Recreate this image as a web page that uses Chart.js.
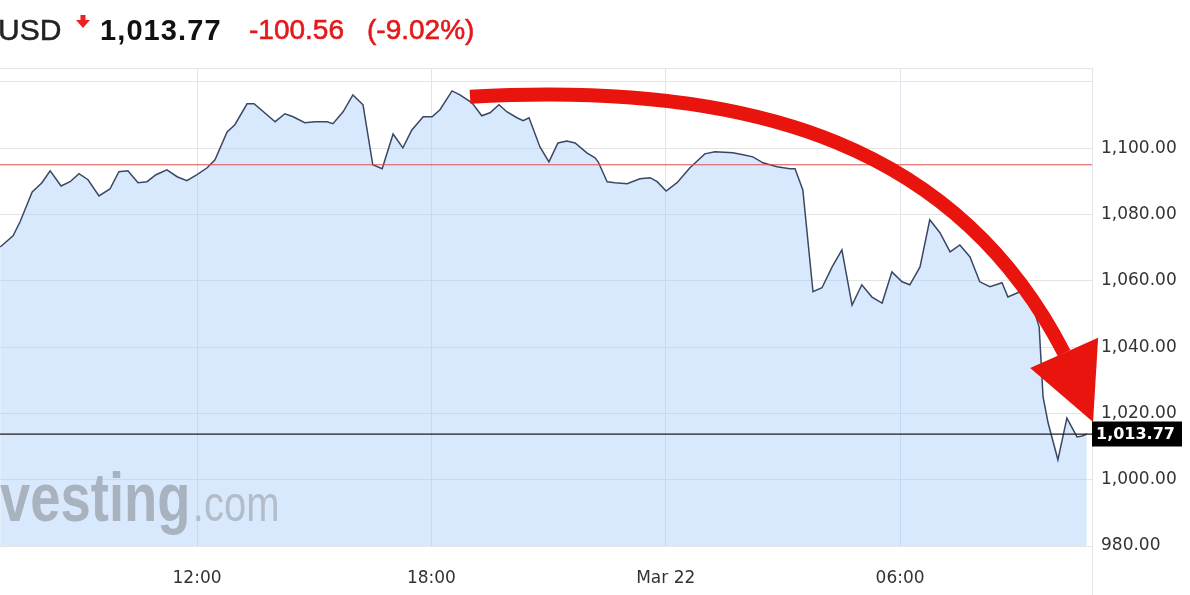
<!DOCTYPE html>
<html>
<head>
<meta charset="utf-8">
<script src="https://cdn.jsdelivr.net/npm/chart.js@4/dist/chart.umd.min.js"></script>
<style>
  html, body { margin: 0; padding: 0; background: #fff; overflow: hidden; }
  #wrap { position: relative; width: 1190px; height: 595px; }
  #chart { position: absolute; left: 0; top: 0; }
  .hd { position: absolute; font-family: "Liberation Sans", Arial, sans-serif; line-height: 1; white-space: nowrap; }
</style>
</head>
<body>
<div id="wrap">
  <canvas id="chart" width="1190" height="595"></canvas>
  <span class="hd" id="hSym" style="left:-2px; top:15px; font-size:30px; color:#222; -webkit-text-stroke:0.5px #222;"></span>
  <svg style="position:absolute; left:76px; top:15px;" width="14" height="14" viewBox="0 0 14 14">
    <polygon points="4.5,0 9.5,0 9.5,5 14,5 7,13 0,5 4.5,5" fill="#e8231f"/>
  </svg>
  <span class="hd" id="hPrice" style="left:100px; top:15.5px; font-size:29px; font-weight:bold; color:#111; letter-spacing:1.1px;"></span>
  <span class="hd" id="hChg" style="left:249px; top:16.3px; font-size:28px; color:#e3191b; -webkit-text-stroke:0.6px #e3191b;"></span>
  <span class="hd" id="hPct" style="left:367px; top:16.3px; font-size:28px; color:#e3191b; -webkit-text-stroke:0.6px #e3191b;"></span>
</div>
<script>
// ---------- data ----------
const symbolText = "USD";
const lastPriceText = "1,013.77";
const changeText = "-100.56";
const changePctText = "(-9.02%)";

// time in hours from Mar 21 00:00
const hours = [6.96,7.29,7.47,7.78,8.03,8.24,8.52,8.75,8.98,9.21,9.49,9.77,10.00,10.23,10.49,10.72,10.95,11.23,11.49,11.74,
  12.00,12.26,12.46,12.77,12.97,13.28,13.46,14.00,14.25,14.46,14.76,15.02,15.33,15.48,15.74,15.99,16.25,16.50,16.74,17.02,
  17.27,17.50,17.79,18.02,18.22,18.53,18.73,19.04,19.29,19.50,19.73,19.93,20.19,20.35,20.50,20.78,21.01,21.24,21.47,21.68,
  21.98,22.19,22.27,22.50,22.70,23.01,23.34,23.60,23.78,24.01,24.29,24.62,25.00,25.26,25.72,25.98,26.23,26.49,26.85,27.18,
  27.31,27.51,27.77,28.00,28.26,28.51,28.77,29.02,29.28,29.54,29.79,30.05,30.25,30.51,30.76,31.02,31.28,31.53,31.79,32.04,
  32.30,32.61,32.76,33.07,33.40,33.56,33.66,33.79,34.04,34.27,34.53,34.66,34.78];
const prices = [1070.2,1073.6,1077.8,1086.8,1089.6,1093.2,1088.6,1089.9,1092.3,1090.5,1085.6,1087.7,1092.9,1093.2,1089.6,1089.9,1092.0,1093.5,1091.4,1090.2,
  1092.0,1094.1,1096.5,1104.9,1107.1,1113.4,1113.4,1108.0,1110.4,1109.5,1107.7,1108.0,1108.0,1107.4,1111.0,1116.1,1113.1,1095.0,1093.8,1104.3,
  1100.1,1105.5,1109.5,1109.5,1111.6,1117.3,1116.1,1113.7,1109.8,1110.7,1113.1,1111.0,1109.2,1108.3,1109.2,1100.4,1095.9,1101.6,1102.2,1101.6,
  1098.6,1097.1,1095.9,1089.9,1089.6,1089.3,1090.8,1091.1,1089.9,1087.1,1089.6,1094.1,1098.3,1098.9,1098.6,1098.0,1097.4,1095.6,1094.4,1093.8,
  1093.8,1087.4,1056.7,1057.9,1064.2,1069.3,1052.7,1058.8,1055.1,1053.3,1062.7,1059.7,1058.8,1064.2,1078.4,1074.5,1068.7,1070.8,1067.2,1059.7,
  1058.2,1059.4,1055.1,1056.7,1052.1,1046.1,1025.0,1017.1,1006.0,1018.6,1012.9,1013.2,1013.77];

const refLevel = 1095.0;      // red horizontal line
const lastPrice = 1013.77;    // black horizontal line + label

const xTicks = [12, 18, 24, 30];
const xTickLabels = ["12:00", "18:00", "Mar 22", "06:00"];
const yGrid = [980, 1000, 1020, 1040, 1060, 1080, 1100, 1120];
const yLabelled = [980, 1000, 1020, 1040, 1060, 1080, 1100];

const X_MIN = 6.956, X_MAX = 34.913;
const Y_MIN = 980, Y_MAX = 1124.2;

// annotation arrow (in data units): bezier start, control1, control2, end; head triangle
const arrowCurve = [[18.99,1115.5],[26.41,1120.6],[31.53,1099.5],[34.20,1038.2]];
const arrowHead = [[33.33,1033.7],[35.07,1042.8],[34.94,1017.4]];

// ---------- header ----------
document.getElementById('hSym').textContent = symbolText;
document.getElementById('hPrice').textContent = lastPriceText;
document.getElementById('hChg').textContent = changeText;
document.getElementById('hPct').textContent = changePctText;

// ---------- chart ----------
const series = hours.map((h, i) => ({x: h, y: prices[i]}));
const fmt = v => v.toLocaleString('en-US', {minimumFractionDigits: 2, maximumFractionDigits: 2});

const decorPlugin = {
  id: 'decor',
  afterDatasetsDraw(chart) {
    const {ctx, chartArea} = chart;
    // watermark
    ctx.save();
    ctx.beginPath();
    ctx.rect(chartArea.left, chartArea.top, chartArea.right - chartArea.left, chartArea.bottom - chartArea.top);
    ctx.clip();
    ctx.translate(chartArea.left, chartArea.bottom - 25);
    ctx.scale(0.8, 1);
    ctx.textBaseline = 'alphabetic';
    ctx.font = 'bold 68px "Liberation Sans", Arial, sans-serif';
    ctx.fillStyle = '#a9b3bf';
    const wIn = ctx.measureText('in').width;
    const wV = ctx.measureText('vesting').width;
    ctx.fillText('investing', -wIn, 0);
    ctx.font = '50px "Liberation Sans", Arial, sans-serif';
    ctx.fillStyle = '#b3bdca';
    ctx.fillText('.com', wV + 3, 0);
    ctx.restore();
  },
  afterDraw(chart) {
    const {ctx, chartArea, scales} = chart;
    const xs = scales.x, ys = scales.y;
    const P = p => [xs.getPixelForValue(p[0]), ys.getPixelForValue(p[1])];
    // right frame line
    ctx.save();
    ctx.strokeStyle = '#e3e3e3';
    ctx.lineWidth = 1;
    ctx.beginPath();
    ctx.moveTo(chartArea.right + 0.5, chartArea.top);
    ctx.lineTo(chartArea.right + 0.5, chart.height);
    ctx.stroke();
    ctx.restore();
    // red arrow
    const a = arrowCurve.map(P);
    ctx.save();
    ctx.strokeStyle = '#e9140d';
    ctx.fillStyle = '#e9140d';
    ctx.lineWidth = 14;
    ctx.lineCap = 'butt';
    ctx.beginPath();
    ctx.moveTo(a[0][0], a[0][1]);
    ctx.bezierCurveTo(a[1][0], a[1][1], a[2][0], a[2][1], a[3][0], a[3][1]);
    ctx.stroke();
    const h = arrowHead.map(P);
    ctx.beginPath();
    ctx.moveTo(h[0][0], h[0][1]);
    ctx.lineTo(h[1][0], h[1][1]);
    ctx.lineTo(h[2][0], h[2][1]);
    ctx.closePath();
    ctx.fill();
    ctx.restore();
    // last price box
    const yp = ys.getPixelForValue(lastPrice);
    ctx.save();
    ctx.fillStyle = '#000';
    ctx.fillRect(chartArea.right, Math.round(yp) - 12.5, 90, 25);
    ctx.fillStyle = '#fff';
    ctx.font = 'bold 16px "DejaVu Sans", sans-serif';
    ctx.textBaseline = 'middle';
    ctx.textAlign = 'left';
    ctx.fillText(fmt(lastPrice), chartArea.right + 4, Math.round(yp) + 1);
    ctx.restore();
  }
};

new Chart(document.getElementById('chart'), {
  type: 'line',
  data: {
    datasets: [
      {
        data: series,
        borderColor: '#3a4764',
        borderWidth: 1.5,
        backgroundColor: 'rgba(160,200,250,0.40)',
        fill: 'start',
        pointRadius: 0,
        tension: 0,
        order: 3
      },
      {
        data: [{x: X_MIN, y: refLevel}, {x: X_MAX, y: refLevel}],
        borderColor: '#e04e4e',
        borderWidth: 1,
        pointRadius: 0,
        fill: false,
        order: 2
      },
      {
        data: [{x: X_MIN, y: lastPrice}, {x: X_MAX, y: lastPrice}],
        borderColor: '#1c1c1c',
        borderWidth: 1.2,
        pointRadius: 0,
        fill: false,
        order: 1
      }
    ]
  },
  options: {
    responsive: false,
    animation: false,
    events: [],
    layout: { padding: { top: 68, left: 0, right: 0, bottom: 0 } },
    plugins: { legend: { display: false }, tooltip: { enabled: false } },
    scales: {
      x: {
        type: 'linear',
        min: X_MIN,
        max: X_MAX,
        afterBuildTicks: s => { s.ticks = xTicks.map(v => ({value: v})); },
        afterFit: s => { s.height = 49; },
        border: { display: false },
        grid: { color: '#dde5ef', lineWidth: 1, drawTicks: false },
        ticks: {
          autoSkip: false,
          maxRotation: 0,
          padding: 22,
          color: '#333',
          font: { family: '"DejaVu Sans", sans-serif', size: 17 },
          callback: v => { const i = xTicks.indexOf(v); return i >= 0 ? xTickLabels[i] : ''; }
        }
      },
      y: {
        position: 'right',
        min: Y_MIN,
        max: Y_MAX,
        afterBuildTicks: s => { s.ticks = yGrid.concat([Y_MAX]).map(v => ({value: v})); },
        afterFit: s => { s.width = 98; },
        border: { display: false },
        grid: { color: '#e4e4e4', lineWidth: 1, drawTicks: false },
        ticks: {
          padding: 9,
          color: '#333',
          font: { family: '"DejaVu Sans", sans-serif', size: 17 },
          callback: v => yLabelled.includes(v) ? fmt(v) : ''
        }
      }
    }
  },
  plugins: [decorPlugin]
});
</script>
</body>
</html>
